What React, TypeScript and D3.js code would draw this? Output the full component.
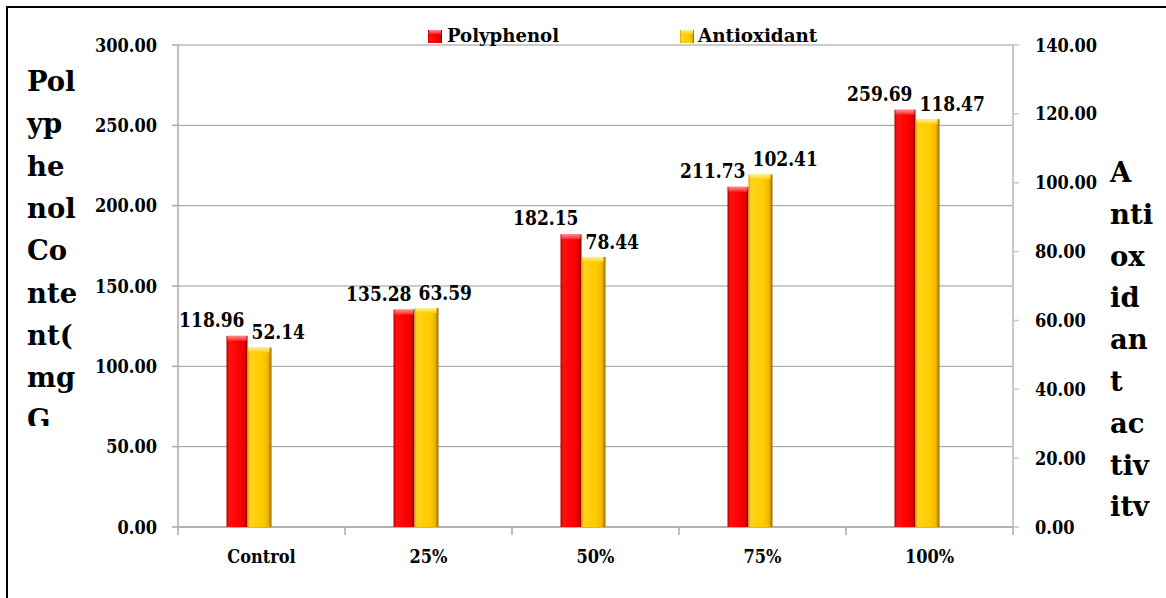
import React from "react";
import * as d3 from "d3";

const categories = ["Control", "25%", "50%", "75%", "100%"];
const polyphenol = [118.96, 135.28, 182.15, 211.73, 259.69];
const antioxidant = [52.14, 63.59, 78.44, 102.41, 118.47];
const leftTicks = [0, 50, 100, 150, 200, 250, 300];
const rightTicks = [0, 20, 40, 60, 80, 100, 120, 140];
const seriesNames = ["Polyphenol", "Antioxidant"];
const leftTitleLines = ["Pol", "yp", "he", "nol", "Co", "nte", "nt(", "mg", "G"];
const rightTitleLines = ["A", "nti", "ox", "id", "an", "t", "ac", "tiv", "itv"];

const W = 1166;
const H = 598;
const M = { left: 178, right: 1013, top: 45, bottom: 527 };
const FONT = "'DejaVu Serif Condensed', 'DejaVu Serif', serif";

function T({ x, y, sx = 1, size, anchor = "start", children }: any) {
  return (
    <text
      transform={`translate(${x},${y}) scale(${sx},1)`}
      textAnchor={anchor}
      style={{ fontFamily: FONT, fontWeight: 700, fontSize: size + "px", fontStretch: "condensed" }}
      fill="#000"
    >
      {children}
    </text>
  );
}

export default function App() {
  const x = d3.scaleBand<string>().domain(categories).range([M.left, M.right]);
  const yL = d3.scaleLinear().domain([0, 300]).range([M.bottom, M.top]);
  const yR = d3.scaleLinear().domain([0, 140]).range([M.bottom, M.top]);
  const bw = x.bandwidth();
  const redW = 21;
  const yelW = 24;
  const groupShift = -14;

  return (
    <svg
      width={W}
      height={H}
      style={{ position: "absolute", left: 0, top: 0, background: "#fff" }}
    >
      <defs>
        <linearGradient id="gRed" x1="0" x2="1" y1="0" y2="0">
          <stop offset="0%" stopColor="#a80000" />
          <stop offset="12%" stopColor="#ff1010" />
          <stop offset="60%" stopColor="#ff0000" />
          <stop offset="88%" stopColor="#e00000" />
          <stop offset="100%" stopColor="#7a0000" />
        </linearGradient>
        <linearGradient id="gRedTop" x1="0" x2="0" y1="0" y2="1">
          <stop offset="0%" stopColor="#ff9090" />
          <stop offset="100%" stopColor="#ff2020" />
        </linearGradient>
        <linearGradient id="gYel" x1="0" x2="1" y1="0" y2="0">
          <stop offset="0%" stopColor="#d89e00" />
          <stop offset="10%" stopColor="#ffd21a" />
          <stop offset="60%" stopColor="#ffcc00" />
          <stop offset="85%" stopColor="#f2b800" />
          <stop offset="100%" stopColor="#9a6a00" />
        </linearGradient>
        <linearGradient id="gYelTop" x1="0" x2="0" y1="0" y2="1">
          <stop offset="0%" stopColor="#fff0a0" />
          <stop offset="100%" stopColor="#ffd000" />
        </linearGradient>
        <clipPath id="leftTitleClip">
          <rect x={0} y={40} width={110} height={386} />
        </clipPath>
      </defs>

      {/* frame */}
      <path d={`M7,${H} V7 H${W}`} fill="none" stroke="#000" strokeWidth={2} />

      {/* gridlines */}
      {leftTicks.map((t) => (
        <line
          key={"g" + t}
          x1={M.left}
          x2={M.right}
          y1={yL(t)}
          y2={yL(t)}
          stroke="#999"
          strokeWidth={1}
        />
      ))}

      {/* left axis */}
      <line x1={M.left} x2={M.left} y1={M.top} y2={M.bottom} stroke="#aaa" strokeWidth={1.5} />
      {leftTicks.map((t) => (
        <g key={"lt" + t}>
          <line x1={M.left - 6} x2={M.left} y1={yL(t)} y2={yL(t)} stroke="#aaa" strokeWidth={1.5} />
          <T x={157} y={yL(t) + 6.5} size={18} anchor="end">
            {t.toFixed(2)}
          </T>
        </g>
      ))}

      {/* right axis */}
      <line x1={M.right} x2={M.right} y1={M.top} y2={M.bottom} stroke="#c8c8c8" strokeWidth={2} />
      {rightTicks.map((t) => (
        <g key={"rt" + t}>
          <line x1={M.right} x2={M.right + 6} y1={yR(t)} y2={yR(t)} stroke="#c8c8c8" strokeWidth={1.5} />
          <T x={1035} y={yR(t) + 6.5} size={18}>
            {t.toFixed(2)}
          </T>
        </g>
      ))}

      {/* bottom axis */}
      <line x1={M.left} x2={M.right} y1={M.bottom} y2={M.bottom} stroke="#aaa" strokeWidth={1.5} />
      {categories.concat(["__end"]).map((c, i) => {
        const xx = i < categories.length ? (x(c) as number) : M.right;
        return (
          <line key={"bt" + i} x1={xx} x2={xx} y1={M.bottom} y2={M.bottom + 8} stroke="#aaa" strokeWidth={1.5} />
        );
      })}
      {categories.map((c) => (
        <T key={"cl" + c} x={(x(c) as number) + bw / 2} y={563} size={18} anchor="middle">
          {c}
        </T>
      ))}

      {/* bars */}
      {categories.map((c, i) => {
        const gc = (x(c) as number) + bw / 2 + groupShift;
        const rx = gc - redW;
        const ry = yL(polyphenol[i]);
        const yx = gc;
        const yy = yR(antioxidant[i]);
        return (
          <g key={"b" + c}>
            <rect x={rx} y={ry} width={redW} height={M.bottom - ry} fill="url(#gRed)" />
            <rect x={rx + 1} y={ry} width={redW - 2} height={5} fill="url(#gRedTop)" />
            <rect x={yx} y={yy} width={yelW} height={M.bottom - yy} fill="url(#gYel)" />
            <rect x={yx + 1} y={yy} width={yelW - 3} height={5} fill="url(#gYelTop)" />
            <T x={rx + redW - 3} y={ry - 9} size={20} sx={0.95} anchor="end">
              {polyphenol[i].toFixed(2)}
            </T>
            <T x={yx + 4} y={yy - 8} size={20} sx={0.95}>
              {antioxidant[i].toFixed(2)}
            </T>
          </g>
        );
      })}

      {/* legend */}
      <rect x={428} y={30} width={14} height={13} fill="url(#gRed)" />
      <rect x={429} y={30} width={12} height={4} fill="url(#gRedTop)" />
      <T x={447} y={42} size={19} sx={1.06}>
        {seriesNames[0]}
      </T>
      <rect x={680} y={30} width={14} height={13} fill="url(#gYel)" />
      <rect x={681} y={30} width={12} height={4} fill="url(#gYelTop)" />
      <T x={698} y={42} size={19} sx={1.07}>
        {seriesNames[1]}
      </T>

      {/* left title */}
      <g clipPath="url(#leftTitleClip)">
        {leftTitleLines.map((l, i) => (
          <T key={"lt" + i} x={27} y={91 + i * 42.3} size={27} sx={1.13}>
            {l}
          </T>
        ))}
      </g>

      {/* right title */}
      {rightTitleLines.map((l, i) => (
        <T key={"rt" + i} x={1110} y={182 + i * 41.8} size={27} sx={1.13}>
          {l}
        </T>
      ))}
    </svg>
  );
}
